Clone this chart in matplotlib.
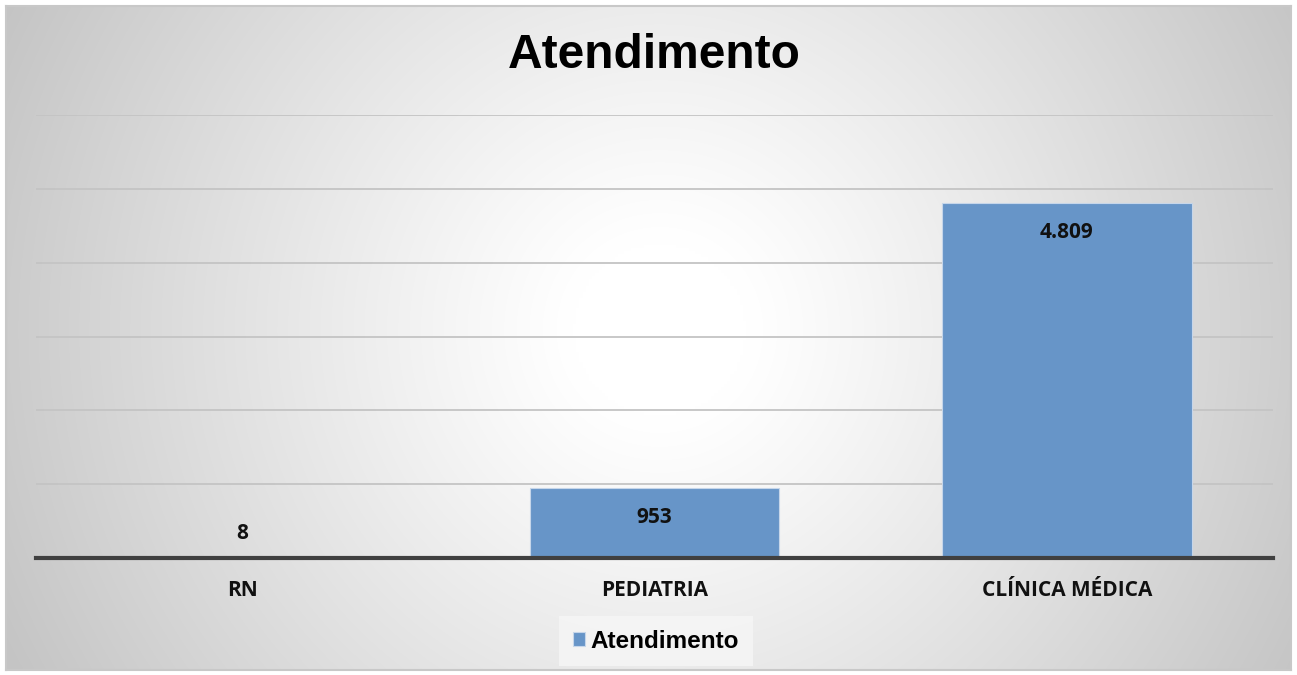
import numpy as np
import matplotlib
matplotlib.use("Agg")
import matplotlib.pyplot as plt

categories = ["RN", "PEDIATRIA", "CLÍNICA MÉDICA"]
values = [8, 953, 4809]
labels = ["8", "953", "4.809"]
series_name = "Atendimento"
title = "Atendimento"

W, H = 1297, 675
fig = plt.figure(figsize=(W / 100, H / 100), dpi=100)
fig.patch.set_facecolor("white")

# background frame with radial gradient
fx0, fx1, fy0, fy1 = 6, 1291, 6, 670
bg = fig.add_axes([fx0 / W, 1 - fy1 / H, (fx1 - fx0) / W, (fy1 - fy0) / H])
nx, ny = 400, 210
xs = np.linspace(fx0, fx1, nx)
ys = np.linspace(fy0, fy1, ny)
X, Y = np.meshgrid(xs, ys)
cx, cy = 660, 330
R = np.sqrt((X - cx) ** 2 + (Y - cy) ** 2) / np.sqrt((cx - fx0) ** 2 + (cy - fy0) ** 2)
t = np.clip((R - 0.12) / 0.88, 0, 1)
v = 1 - 0.23 * t ** 1.1
img = np.dstack([v, v, v])
bg.imshow(img, aspect="auto", extent=[0, 1, 0, 1], origin="upper", interpolation="bilinear")
bg.set_xlim(0, 1)
bg.set_ylim(0, 1)
bg.set_xticks([])
bg.set_yticks([])
for s in bg.spines.values():
    s.set_color("#c8c8c8")
    s.set_linewidth(1.5)
bg.set_zorder(0)

lab_font = dict(family="Open Sans", fontweight="bold", fontsize=15, color="#111111")

ax = fig.add_axes([36 / W, 1 - 558 / H, (1273 - 36) / W, (558 - 115) / H])
ax.set_zorder(1)
ax.patch.set_alpha(0)
x = np.arange(len(categories))
bars = ax.bar(x, values, width=0.605, color="#6795c8", edgecolor="#c6d6ea",
              linewidth=0.8, zorder=3, label=series_name)
ax.set_xlim(-0.5, len(categories) - 0.5)
ax.set_ylim(0, 6000)
ax.set_yticks(np.arange(1000, 6001, 1000))
ax.yaxis.grid(True, color="#c4c4c4", linewidth=1.3, zorder=0)
ax.set_axisbelow(True)
ax.tick_params(axis="y", length=0, labelleft=False)
ax.tick_params(axis="x", length=0, pad=16)
ax.set_xticks(x)
ax.set_xticklabels(categories, **lab_font)
for s in ["top", "right", "left"]:
    ax.spines[s].set_visible(False)
ax.spines["bottom"].set_color("#404040")
ax.spines["bottom"].set_linewidth(3)
ax.spines["bottom"].set_zorder(4)

for xi, val, lab in zip(x, values, labels):
    off = -21.5 if val > 600 else 17
    ax.annotate(lab, (xi, val), xytext=(0, off), textcoords="offset points",
                ha="center", va="center", zorder=5, **lab_font)

fig.text(654 / W, 1 - 56 / H, title, ha="center", va="center", fontsize=34.5,
         fontweight="bold", family="Liberation Sans", color="black")

leg = fig.legend(handles=[bars], labels=[series_name], loc="center",
                 bbox_to_anchor=(656 / W, 1 - 641 / H), frameon=True,
                 prop={"family": "Liberation Sans", "weight": "bold", "size": 17.5},
                 handlelength=0.5, handleheight=0.5, handletextpad=0.25,
                 borderpad=0.55, fancybox=False)
leg.get_frame().set_facecolor("#f6f6f6")
leg.get_frame().set_edgecolor("none")

fig.savefig("out.png", dpi=100)
